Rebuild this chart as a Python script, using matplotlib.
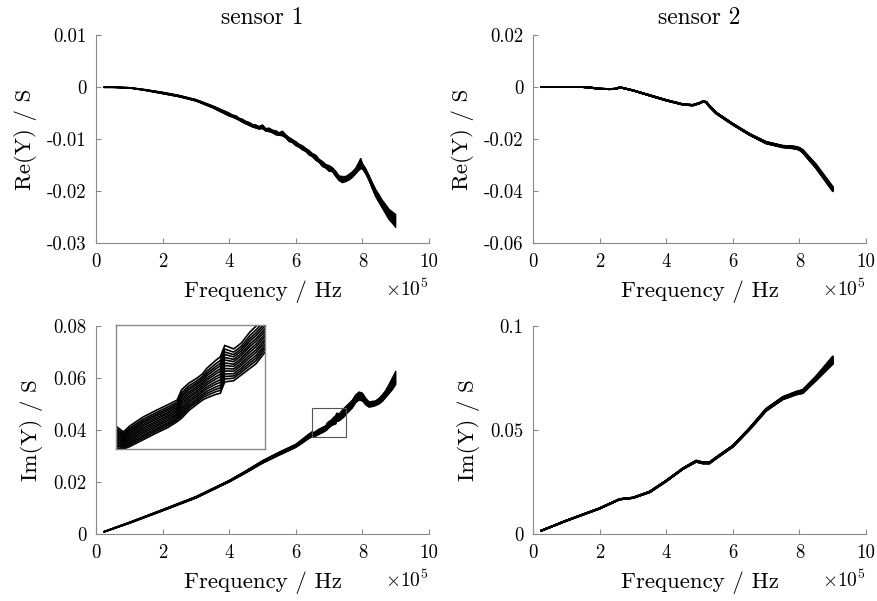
import numpy as np
import matplotlib
matplotlib.use("Agg")
import matplotlib.pyplot as plt
from matplotlib.patches import Rectangle

plt.rcParams['font.family'] = 'serif'
plt.rcParams['font.serif'] = ['cmr10', 'DejaVu Serif']
plt.rcParams['mathtext.fontset'] = 'cm'
plt.rcParams['axes.unicode_minus'] = False

# frequency in units of 1e5 Hz
f_re1 = [0.25, 0.5, 1, 1.5, 2, 2.5, 3, 3.5, 4.0, 4.1, 4.2, 4.3, 4.4, 4.5, 4.6,
         4.7, 4.8, 4.9, 5.0, 5.1, 5.2, 5.3, 5.4, 5.5, 5.6, 5.7, 5.8, 5.9, 6.0,
         6.1, 6.2, 6.3, 6.4, 6.5, 6.6, 6.7, 6.8, 6.9, 7.0, 7.1, 7.2, 7.3, 7.4,
         7.5, 7.6, 7.7, 7.8, 7.9, 7.95, 8.0, 8.1, 8.2, 8.3, 8.4, 8.5, 8.6, 8.7,
         8.8, 8.9, 9.0]
re1_upper = [0, 0, -0.0001, -0.0005, -0.0010, -0.0016, -0.0024, -0.0036, -0.0050,
             -0.0054, -0.0055, -0.0060, -0.0062, -0.0066, -0.0068, -0.0072, -0.0073,
             -0.0076, -0.0073, -0.0080, -0.0079, -0.0083, -0.0084, -0.0088, -0.0085,
             -0.0092, -0.0097, -0.0101, -0.0105, -0.0110, -0.0113, -0.0118, -0.0122,
             -0.0128, -0.0131, -0.0139, -0.0143, -0.0149, -0.0151, -0.0155, -0.0162,
             -0.0171, -0.0172, -0.0172, -0.0168, -0.0163, -0.0156, -0.0144, -0.0137,
             -0.0147, -0.0157, -0.0170, -0.0184, -0.0197, -0.0207, -0.0218, -0.0226,
             -0.0235, -0.0240, -0.0245]
re1_lower = [-0.0001, -0.0001, -0.0002, -0.0007, -0.0013, -0.0019, -0.0027, -0.0040,
             -0.0056, -0.0058, -0.0061, -0.0064, -0.0068, -0.0071, -0.0074, -0.0077,
             -0.0079, -0.0081, -0.0080, -0.0085, -0.0086, -0.0088, -0.0092, -0.0093,
             -0.0094, -0.0098, -0.0105, -0.0107, -0.0113, -0.0116, -0.0121, -0.0124,
             -0.0131, -0.0134, -0.0141, -0.0145, -0.0153, -0.0156, -0.0162, -0.0163,
             -0.0172, -0.0180, -0.0184, -0.0182, -0.0179, -0.0174, -0.0167, -0.0160,
             -0.0158, -0.0157, -0.0167, -0.0180, -0.0196, -0.0211, -0.0222, -0.0233,
             -0.0244, -0.0255, -0.0262, -0.0270]

f_re2 = [0.25, 0.5, 1, 1.5, 1.7, 2, 2.3, 2.5, 2.6, 2.7, 3, 3.5, 4, 4.5, 4.8, 5.0,
         5.1, 5.2, 5.3, 5.5, 6, 6.5, 7, 7.5, 7.8, 7.9, 8.0, 8.1, 8.5, 9.0]
re2 = [0, 0, 0, 0, -0.0002, -0.0007, -0.0008, -0.0007, -0.0001, -0.0004, -0.0013,
       -0.0032, -0.0051, -0.0067, -0.0070, -0.0062, -0.0056, -0.0058, -0.0074,
       -0.0100, -0.0143, -0.0182, -0.0214, -0.0229, -0.0232, -0.0234, -0.0238,
       -0.0247, -0.0305, -0.0392]
re2_spread = [0, 0, 0, 0, 0, 0, 0, 0, 0, 0, 0, 0.0001, 0.0001, 0.0001, 0.0001,
              0.0001, 0.0001, 0.0001, 0.0002, 0.0002, 0.0002, 0.0002, 0.0003, 0.0003,
              0.0004, 0.0004, 0.0004, 0.0005, 0.0007, 0.0008]

f_im1 = [0.25, 1, 2, 3, 4, 4.5, 5, 5.5, 6, 6.2, 6.4, 6.5, 6.55, 6.59, 6.68, 6.77,
         6.85, 6.91, 6.94, 6.99, 7.04, 7.08, 7.11, 7.17, 7.2, 7.23, 7.29, 7.34,
         7.40, 7.44, 7.5, 7.6, 7.7, 7.8, 7.9, 8.0, 8.1, 8.2, 8.3, 8.4, 8.5, 8.6,
         8.7, 8.8, 8.9, 9.0]
im1_upper = [0.0010, 0.0045, 0.0094, 0.0144, 0.0206, 0.0243, 0.0282, 0.0315, 0.0345,
             0.0365, 0.0385, 0.0394, 0.0389, 0.0394, 0.0402, 0.0408, 0.0413, 0.0417,
             0.0426, 0.0432, 0.0436, 0.0440, 0.0445, 0.0452, 0.0455, 0.0465, 0.0462,
             0.0467, 0.0477, 0.0482, 0.0490, 0.0502, 0.0515, 0.0535, 0.0546, 0.0542,
             0.0522, 0.0508, 0.0510, 0.0512, 0.0522, 0.0535, 0.0552, 0.0575, 0.0600,
             0.0625]
im1_lower = [0.0008, 0.0041, 0.0089, 0.0138, 0.0200, 0.0235, 0.0272, 0.0303, 0.0333,
             0.0350, 0.0368, 0.0375, 0.0374, 0.0376, 0.0382, 0.0388, 0.0393, 0.0398,
             0.0401, 0.0408, 0.0413, 0.0417, 0.0419, 0.0422, 0.0423, 0.0433, 0.0434,
             0.0439, 0.0445, 0.0449, 0.0459, 0.0472, 0.0485, 0.0505, 0.0515, 0.0512,
             0.0497, 0.0488, 0.0490, 0.0494, 0.0500, 0.0510, 0.0525, 0.0540, 0.0555,
             0.0575]

f_im2 = [0.25, 1, 2, 2.6, 3, 3.5, 4, 4.5, 4.9, 5.1, 5.3, 5.5, 6, 6.5, 7, 7.5, 7.9,
         8.1, 8.5, 9.0]
im2 = [0.0016, 0.0064, 0.0123, 0.0167, 0.0174, 0.0202, 0.0255, 0.0314, 0.0350,
       0.0342, 0.0342, 0.0366, 0.0422, 0.0505, 0.0597, 0.0653, 0.0677, 0.0685,
       0.0748, 0.0835]
im2_spread = [0, 0.0001, 0.0001, 0.0001, 0.0001, 0.0002, 0.0002, 0.0002, 0.0003,
              0.0003, 0.0003, 0.0003, 0.0003, 0.0004, 0.0005, 0.0006, 0.0007, 0.0008,
              0.0010, 0.0018]

# relative position of each measured curve inside the bundle
bundle_frac = [0.0, 0.08, 0.15, 0.22, 0.3, 0.37, 0.45, 0.52, 0.6, 0.67, 0.75,
               0.82, 0.9, 1.0]

x_ticks = [0, 2, 4, 6, 8, 10]
re1_ticks = [-0.03, -0.02, -0.01, 0, 0.01]
re2_ticks = [-0.06, -0.04, -0.02, 0, 0.02]
im1_ticks = [0, 0.02, 0.04, 0.06, 0.08]
im2_ticks = [0, 0.05, 0.1]

# zoom window (inset)
zoom_x = [6.5, 7.5]
zoom_y = [0.0374, 0.0483]

gray = '#8a8a8a'


def fmt(v):
    return '0' if v == 0 else ('%g' % v)


def draw_bundle(ax, f, lower, upper, lw=1.0):
    fx = np.array(f) * 1e5
    lo = np.array(lower)
    hi = np.array(upper)
    for t in bundle_frac:
        ax.plot(fx, lo + t * (hi - lo), color='k', lw=lw, solid_joinstyle='miter')


def style(ax, yticks, ylabel, title=None):
    ax.set_xlim(0, 1e6)
    ax.set_ylim(yticks[0], yticks[-1])
    ax.set_xticks([t * 1e5 for t in x_ticks])
    ax.set_xticklabels([str(t) for t in x_ticks])
    ax.set_yticks(yticks)
    ax.set_yticklabels([fmt(v) for v in yticks])
    for s in ['top', 'right']:
        ax.spines[s].set_visible(False)
    for s in ['left', 'bottom']:
        ax.spines[s].set_color(gray)
        ax.spines[s].set_linewidth(0.8)
    ax.tick_params(direction='in', length=3.5, width=0.8, colors=gray,
                   labelcolor='k', labelsize=13.5, pad=7)
    ax.set_xlabel('Frequency / Hz', fontsize=16.5, labelpad=7)
    ax.set_ylabel(ylabel, fontsize=16.5, labelpad=7)
    ax.text(1.0, -0.225, r'$\times10^5$', transform=ax.transAxes,
            ha='right', va='center', fontsize=14)
    if title:
        ax.set_title(title, fontsize=17, pad=8)


fig = plt.figure(figsize=(8.77, 6.01), dpi=100)
w, h = 333 / 877, 208 / 601
ax1 = fig.add_axes([96 / 877, 1 - 243 / 601, w, h])
ax2 = fig.add_axes([533 / 877, 1 - 243 / 601, w, h])
ax3 = fig.add_axes([96 / 877, 1 - 534 / 601, w, h])
ax4 = fig.add_axes([533 / 877, 1 - 534 / 601, w, h])

draw_bundle(ax1, f_re1, re1_lower, re1_upper, lw=0.9)
style(ax1, re1_ticks, 'Re(Y) / S', 'sensor 1')

re2_a = np.array(re2)
re2_s = np.array(re2_spread)
draw_bundle(ax2, f_re2, re2_a - re2_s, re2_a + re2_s, lw=1.4)
style(ax2, re2_ticks, 'Re(Y) / S', 'sensor 2')

draw_bundle(ax3, f_im1, im1_lower, im1_upper, lw=1.0)
style(ax3, im1_ticks, 'Im(Y) / S')
ax3.add_patch(Rectangle((zoom_x[0] * 1e5, zoom_y[0]), (zoom_x[1] - zoom_x[0]) * 1e5,
                        zoom_y[1] - zoom_y[0], fill=False, edgecolor='#555555', lw=0.8,
                        zorder=5))

im2_a = np.array(im2)
im2_s = np.array(im2_spread)
draw_bundle(ax4, f_im2, im2_a - im2_s, im2_a + im2_s, lw=1.4)
style(ax4, im2_ticks, 'Im(Y) / S')

# inset
axi = fig.add_axes([116 / 877, 1 - 449 / 601, 149 / 877, 124 / 601])
draw_bundle(axi, f_im1, im1_lower, im1_upper, lw=1.2)
axi.set_xlim(zoom_x[0] * 1e5, zoom_x[1] * 1e5)
axi.set_ylim(zoom_y[0], zoom_y[1])
axi.set_xticks([])
axi.set_yticks([])
for s in axi.spines.values():
    s.set_color(gray)
    s.set_linewidth(1.0)

fig.savefig('out.png', dpi=100)
